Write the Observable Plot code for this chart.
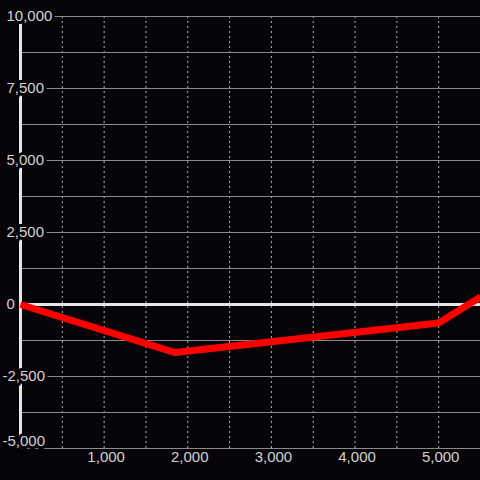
<!DOCTYPE html>
<html>
<head>
<meta charset="utf-8">
<script src="https://cdn.jsdelivr.net/npm/d3@7"></script>
<script src="https://cdn.jsdelivr.net/npm/@observablehq/plot@0.6"></script>
<style>
  html, body { margin: 0; padding: 0; background: #060409; }
  #chart svg { display: block; }
</style>
</head>
<body>
<div id="chart"></div>
<script>
// Series
const seriesX = [0, 1850, 5000, 5500];
const seriesY = [0, -1670, -640, 260];

// Tick labels and grid values
const xTickValues = [1000, 2000, 3000, 4000, 5000];
const xGridValues = [500, 1000, 1500, 2000, 2500, 3000, 3500, 4000, 4500, 5000, 5500];
const yTickPositive = [0, 2500, 5000, 7500, 10000];
const yTickNegative = [-2500];
const yTickBottom = [-5000];
const yGridValues = [-5000, -3750, -2500, -1250, 0, 1250, 2500, 3750, 5000, 6250, 7500, 8750, 10000];

const data = seriesX.map((x, i) => ({x, y: seriesY[i]}));
const bg = "#060409";
const fmt = d3.format(",");
const labelStyle = {fill: "#d2d2d2", stroke: bg, strokeWidth: 6, fontSize: 15, fontFamily: "'Liberation Sans', Arial, sans-serif"};

const chart = Plot.plot({
  width: 480,
  height: 480,
  marginLeft: 20,
  marginRight: 0,
  marginTop: 16,
  marginBottom: 32,
  style: {background: bg, color: "#d2d2d2"},
  x: {domain: [0, 5500], axis: null},
  y: {domain: [-5000, 10000], axis: null},
  marks: [
    Plot.ruleX(xGridValues, {stroke: "#b4b4b4", strokeWidth: 1, strokeDasharray: "2,3"}),
    Plot.ruleY(yGridValues, {x1: 0, x2: 5500, stroke: "#8a8a8a", strokeWidth: 1}),
    Plot.ruleY([0], {x1: 0, x2: 5500, stroke: "#e6e6e6", strokeWidth: 3}),
    Plot.ruleX([0], {stroke: "#e6e6e6", strokeWidth: 3}),
    Plot.text(yTickPositive, {y: d => d, text: d => fmt(d), frameAnchor: "left", dx: -14, textAnchor: "start", ...labelStyle}),
    Plot.text(yTickNegative, {y: d => d, text: d => fmt(d).replace("−", "-"), frameAnchor: "left", dx: -18, textAnchor: "start", ...labelStyle}),
    Plot.text(yTickBottom, {y: d => d, text: d => fmt(d).replace("−", "-"), frameAnchor: "left", dx: -18, dy: -7, textAnchor: "start", ...labelStyle}),
    Plot.text(xTickValues, {x: d => d, text: d => fmt(d), frameAnchor: "bottom", dy: 13, dx: 2, textAnchor: "middle", ...labelStyle}),
    Plot.line(data, {x: "x", y: "y", stroke: "#ff0000", strokeWidth: 7, strokeLinecap: "butt", strokeLinejoin: "miter"})
  ]
});
document.getElementById("chart").appendChild(chart);
</script>
</body>
</html>
